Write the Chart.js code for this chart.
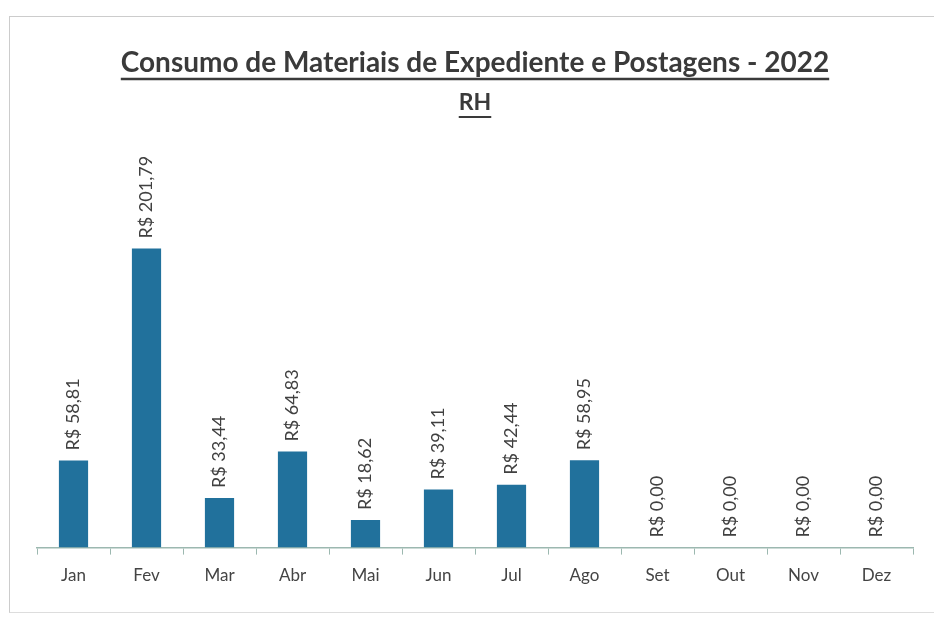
<!DOCTYPE html>
<html><head><meta charset="utf-8">
<script src="https://cdn.jsdelivr.net/npm/chart.js@4"></script>
<style>
html,body{margin:0;padding:0;background:#fff;}
#wrap{position:relative;width:934px;height:618px;}
#frame{position:absolute;left:9px;top:16px;width:940px;height:595px;border-left:1px solid #ccc;border-top:1px solid #ccc;border-bottom:1px solid #ddd;}
canvas{position:absolute;left:0;top:0;}
</style></head>
<body><div id="wrap"><div id="frame"></div><canvas id="c" width="934" height="618"></canvas></div>
<script>
const titleText = "Consumo de Materiais de Expediente e Postagens - 2022";
const subtitleText = "RH";
const categories = ["Jan","Fev","Mar","Abr","Mai","Jun","Jul","Ago","Set","Out","Nov","Dez"];
const values = [58.81,201.79,33.44,64.83,18.62,39.11,42.44,58.95,0,0,0,0];
const valueLabels = ["R$ 58,81","R$ 201,79","R$ 33,44","R$ 64,83","R$ 18,62","R$ 39,11","R$ 42,44","R$ 58,95","R$ 0,00","R$ 0,00","R$ 0,00","R$ 0,00"];

const FONT = "Lato, 'Open Sans', sans-serif";

const titlePlugin = {
  id:'titles',
  afterDraw(chart){
    const ctx = chart.ctx;
    ctx.save();
    ctx.fillStyle = '#3a3a3a';
    ctx.strokeStyle = '#3a3a3a';
    ctx.textAlign = 'center';
    ctx.textBaseline = 'alphabetic';
    ctx.font = "bold 28px " + FONT;
    const cx = 475;
    ctx.fillText(titleText, cx, 72);
    let w = ctx.measureText(titleText).width;
    ctx.lineWidth = 2.5;
    ctx.beginPath(); ctx.moveTo(cx-w/2, 79); ctx.lineTo(cx+w/2, 79); ctx.stroke();
    ctx.font = "bold 23px " + FONT;
    ctx.fillText(subtitleText, cx, 110);
    w = ctx.measureText(subtitleText).width;
    ctx.lineWidth = 2;
    ctx.beginPath(); ctx.moveTo(cx-w/2, 117); ctx.lineTo(cx+w/2, 117); ctx.stroke();
    ctx.restore();
  }
};

const labelPlugin = {
  id:'vlabels',
  afterDatasetsDraw(chart){
    const ctx = chart.ctx;
    const meta = chart.getDatasetMeta(0);
    ctx.save();
    ctx.fillStyle = '#404040';
    ctx.font = "18px " + FONT;
    ctx.textAlign = 'left';
    ctx.textBaseline = 'middle';
    meta.data.forEach((bar,i)=>{
      ctx.save();
      ctx.translate(bar.x, bar.y - 10);
      ctx.rotate(-Math.PI/2);
      ctx.fillText(valueLabels[i], 0, 0);
      ctx.restore();
    });
    ctx.restore();
  }
};

new Chart(document.getElementById('c'), {
  type:'bar',
  data:{labels:categories, datasets:[{data:values, backgroundColor:'#21719c', borderWidth:0, barPercentage:0.4, categoryPercentage:1}]},
  options:{
    responsive:false, animation:false,
    layout:{padding:{top:177,left:37,right:21,bottom:21}},
    plugins:{legend:{display:false}, tooltip:{enabled:false}, title:{display:false}},
    scales:{
      x:{
        offset:true,
        grid:{display:true, offset:true, drawOnChartArea:false, drawTicks:true, tickLength:7, color:'#9cb8b0'},
        border:{display:true, color:'#9cb8b0', width:1.5},
        ticks:{color:'#444', font:{family:FONT, size:17}, padding:11}
      },
      y:{display:false, min:0, max:250}
    }
  },
  plugins:[titlePlugin,labelPlugin]
});
</script></body></html>
